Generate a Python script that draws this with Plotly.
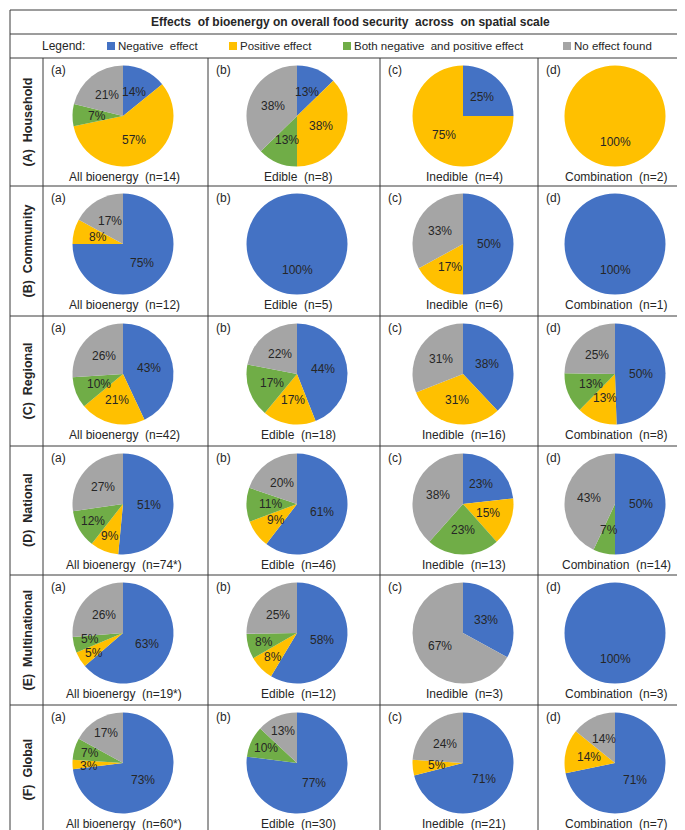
import math
import plotly.graph_objects as go

# ---------------- data ----------------
title = "Effects  of bioenergy on overall food security  across  on spatial scale"
effects = ["Negative  effect", "Positive effect", "Both negative  and positive effect", "No effect found"]
colors = ["#4472C4", "#FFC000", "#70AD47", "#A5A5A5"]

scales = ["(A)  Household", "(B)  Community", "(C)  Regional", "(D)  National", "(E)  Multinational", "(F)  Global"]
categories = ["All bioenergy", "Edible", "Inedible", "Combination"]
panel_tags = ["(a)", "(b)", "(c)", "(d)"]

n_labels = [
    ["14", "8", "4", "2"],
    ["12", "5", "6", "1"],
    ["42", "18", "16", "8"],
    ["74*", "46", "13", "14"],
    ["19*", "12", "3", "3"],
    ["60*", "30", "21", "7"],
]

negative = [
    [14, 13, 25, 0],
    [75, 100, 50, 100],
    [43, 44, 38, 50],
    [51, 61, 23, 50],
    [63, 58, 33, 100],
    [73, 77, 71, 71],
]
positive = [
    [57, 38, 75, 100],
    [8, 0, 17, 0],
    [21, 17, 31, 13],
    [9, 9, 15, 0],
    [5, 8, 0, 0],
    [3, 0, 5, 14],
]
both = [
    [7, 13, 0, 0],
    [0, 0, 0, 0],
    [10, 17, 0, 13],
    [12, 11, 23, 7],
    [5, 8, 0, 0],
    [7, 10, 0, 0],
]
no_effect = [
    [21, 38, 0, 0],
    [17, 0, 33, 0],
    [26, 22, 31, 25],
    [27, 20, 38, 43],
    [26, 25, 67, 0],
    [17, 13, 24, 14],
]

# ---------------- layout geometry (pixels) ----------------
W, H = 685, 830
FONT = "Arial, Liberation Sans, sans-serif"
TXT = "#262626"
LINE = "#3a3a3a"

x_left, x_right = 2, 683
y_top, y_bottom = 2, 827
title_bottom, legend_bottom = 26, 50
row_tops = [50, 178, 308, 438, 567, 697]
col_lines = [35, 200, 372, 530, 683]
col_centers = [115, 289, 455, 607]
R = 50.5
LABEL_R = 0.52   # label distance from centre as fraction of radius (Excel "best fit")
LABEL_R_OUT = 0.68
MIN_DY, MIN_DX = 14, 22


def px(x):
    return x / W


def py(y):
    return 1 - y / H


def slice_labels(vals, cx, cy):
    """Label positions on each slice's bisector, nudged apart when they collide."""
    total = float(sum(vals))
    mids, cum = [], 0.0
    for v in vals:
        mids.append((cum + v / 2.0) / total * 2 * math.pi)
        cum += v
    radii = [LABEL_R] * len(vals)

    def pos(i):
        return (LABEL_R * 0 + radii[i] * R * math.sin(mids[i]),
                -radii[i] * R * math.cos(mids[i]))

    pts = [list(pos(i)) for i in range(len(vals))]
    for i in range(len(vals)):
        for j in range(i + 1, len(vals)):
            if abs(pts[i][0] - pts[j][0]) < MIN_DX and abs(pts[i][1] - pts[j][1]) < MIN_DY:
                radii[i] = radii[j] = LABEL_R_OUT
                pts[i] = list(pos(i))
                pts[j] = list(pos(j))
                dy = pts[j][1] - pts[i][1]
                if abs(dy) < MIN_DY:
                    shift = (MIN_DY - abs(dy)) / 2.0
                    sgn = 1 if dy >= 0 else -1
                    pts[j][1] += sgn * shift
                    pts[i][1] -= sgn * shift
    return [(cx + p[0], cy + p[1]) for p in pts]


fig = go.Figure()
shapes = []
annotations = []

series = [negative, positive, both, no_effect]

for ri in range(len(scales)):
    top = row_tops[ri]
    bottom = row_tops[ri + 1] if ri + 1 < len(row_tops) else y_bottom
    cy = top + 58
    for ci in range(len(categories)):
        cx = col_centers[ci]
        vals, labs, cols = [], [], []
        for si in range(4):
            v = series[si][ri][ci]
            if v > 0:
                vals.append(v)
                labs.append(effects[si])
                cols.append(colors[si])
        fig.add_trace(go.Pie(
            values=vals,
            labels=labs,
            marker=dict(colors=cols, line=dict(width=0)),
            sort=False,
            direction="clockwise",
            rotation=0,
            textinfo="none",
            showlegend=False,
            hovertemplate="%{label}: %{value}%<extra></extra>",
            domain=dict(x=[px(cx - R), px(cx + R)], y=[py(cy + R), py(cy - R)]),
        ))
        for v, (lx, ly) in zip(vals, slice_labels(vals, cx, cy)):
            annotations.append(dict(
                x=px(lx), y=py(ly), xref="paper", yref="paper", text=f"{v}%",
                showarrow=False, xanchor="center", yanchor="middle",
                font=dict(family=FONT, size=12, color=TXT)))
        # panel tag
        annotations.append(dict(
            x=px(col_lines[ci] + 6), y=py(top + 12), xref="paper", yref="paper",
            text=panel_tags[ci], showarrow=False, xanchor="left", yanchor="middle",
            font=dict(family=FONT, size=12, color=TXT)))
        # category label
        annotations.append(dict(
            x=px(cx + 1), y=py(top + 119), xref="paper", yref="paper",
            text=f"{categories[ci]}  (n={n_labels[ri][ci]})", showarrow=False,
            xanchor="center", yanchor="middle",
            font=dict(family=FONT, size=12, color=TXT)))
    # row label
    annotations.append(dict(
        x=px((x_left + col_lines[0]) / 2 + 1), y=py((top + bottom) / 2), xref="paper", yref="paper",
        text=f"<b>{scales[ri]}</b>", showarrow=False, textangle=-90,
        xanchor="center", yanchor="middle",
        font=dict(family=FONT, size=12.5, color=TXT)))

# title
annotations.append(dict(
    x=px((x_left + x_right) / 2), y=py((y_top + title_bottom) / 2), xref="paper", yref="paper",
    text=f"<b>{title}</b>", showarrow=False, xanchor="center", yanchor="middle",
    font=dict(family=FONT, size=12, color=TXT)))

# legend row
leg_y = (title_bottom + legend_bottom) / 2
annotations.append(dict(
    x=px(32), y=py(leg_y), xref="paper", yref="paper", text="Legend:", showarrow=False,
    xanchor="left", yanchor="middle", font=dict(family=FONT, size=12, color=TXT)))
leg_sq_x = [99, 221, 335, 555]
for i, name in enumerate(effects):
    sx = leg_sq_x[i]
    shapes.append(dict(type="rect", xref="paper", yref="paper",
                       x0=px(sx), x1=px(sx + 8), y0=py(leg_y + 4), y1=py(leg_y - 4),
                       fillcolor=colors[i], line=dict(width=0)))
    annotations.append(dict(
        x=px(sx + 9), y=py(leg_y), xref="paper", yref="paper", text=name, showarrow=False,
        xanchor="left", yanchor="middle", font=dict(family=FONT, size=11.5, color=TXT)))

# grid lines
def hline(y, x0=x_left, x1=x_right):
    shapes.append(dict(type="line", xref="paper", yref="paper", x0=px(x0), x1=px(x1),
                       y0=py(y), y1=py(y), line=dict(color=LINE, width=1)))


def vline(x, y0, y1):
    shapes.append(dict(type="line", xref="paper", yref="paper", x0=px(x), x1=px(x),
                       y0=py(y0), y1=py(y1), line=dict(color=LINE, width=1)))


shapes.append(dict(type="rect", xref="paper", yref="paper", x0=px(x_left), x1=px(x_right),
                   y0=py(y_bottom), y1=py(y_top), line=dict(color=LINE, width=1),
                   fillcolor="rgba(0,0,0,0)"))
hline(title_bottom)
for t in row_tops:
    hline(t)
for x in col_lines[:-1]:
    vline(x, legend_bottom, y_bottom)

fig.update_layout(
    width=W, height=H,
    margin=dict(l=0, r=0, t=0, b=0),
    paper_bgcolor="white", plot_bgcolor="white",
    shapes=shapes, annotations=annotations,
    font=dict(family=FONT, size=12, color=TXT),
)

fig.write_html("out.html")
